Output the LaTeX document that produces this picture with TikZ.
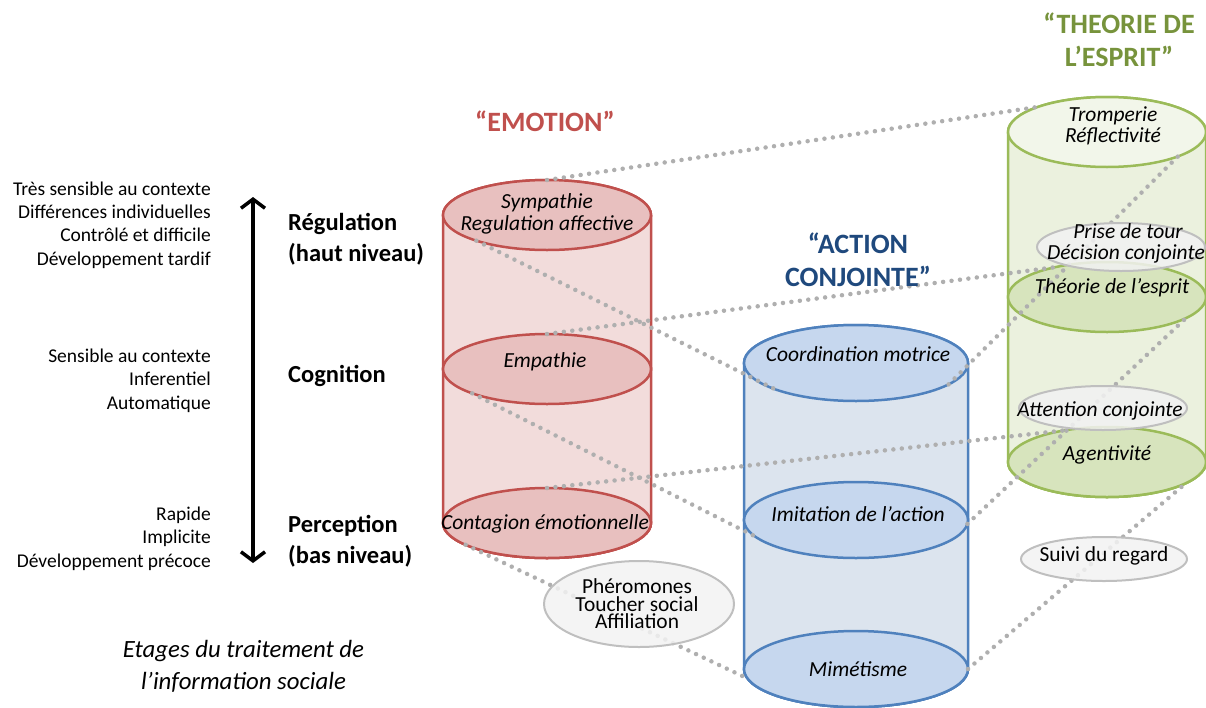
\documentclass[tikz,border=0pt]{standalone}
\usepackage{fontspec}
\setmainfont{Carlito}
\usetikzlibrary{shapes.geometric,arrows.meta}
\definecolor{redS}{HTML}{C0504D}
\definecolor{redB}{HTML}{F2DCDB}
\definecolor{redE}{HTML}{E8C0BF}
\definecolor{bluS}{HTML}{4F81BD}
\definecolor{bluB}{HTML}{DCE4EE}
\definecolor{bluE}{HTML}{C6D7EE}
\definecolor{bluT}{HTML}{1F497D}
\definecolor{grnS}{HTML}{9BBB59}
\definecolor{grnB}{HTML}{EBF1DE}
\definecolor{grnE}{HTML}{D7E4BD}
\definecolor{grnL}{HTML}{F2F6EA}
\definecolor{grnT}{HTML}{77933C}
\definecolor{gryF}{HTML}{F2F2F2}
\definecolor{gryS}{HTML}{BFBFBF}
\definecolor{dotC}{HTML}{AFAFAF}
\begin{document}
\begin{tikzpicture}[x=1pt,y=-1pt,
  ell/.style={ellipse, inner sep=0pt, outer sep=0pt, line width=2.5pt},
  redell/.style={ell, draw=redS, fill=redE, minimum width=208pt, minimum height=70pt},
  bluell/.style={ell, draw=bluS, fill=bluE, minimum width=224pt, minimum height=76pt},
  grnell/.style={ell, draw=grnS, fill=grnE, minimum width=198pt, minimum height=70pt},
  gryell/.style={ell, draw=gryS, fill=gryF, fill opacity=0.85, line width=2pt},
  lefttxt/.style={font=\fontsize{19.5}{23.4}\selectfont, align=right, inner sep=0pt, anchor=east},
  boldtxt/.style={font=\bfseries\fontsize{24.5}{31}\selectfont, align=left, inner sep=0pt, anchor=west},
  ctxt/.style={font=\itshape\fontsize{21.5}{22}\selectfont, align=center, inner sep=0pt},
  ptxt/.style={font=\fontsize{21.4}{17.5}\selectfont, align=center, inner sep=0pt},
  title/.style={font=\bfseries\fontsize{28}{33}\selectfont, align=center, inner sep=0pt},
  dots/.style={draw=dotC, line width=4.5pt, line cap=round, dash pattern=on 0pt off 8.5pt},
  body/.style={line width=2.5pt}]
\useasboundingbox (0,0) rectangle (1206,707);

% ---------- red cylinder ----------
\node[redell] (sym) at (547,215) {};
\node[redell] (emp) at (547,369) {};
\node[redell] (cont) at (547,523) {};
\fill[redB] (sym.west) -- (cont.west) arc[start angle=180,end angle=360,x radius=104pt,y radius=35pt] -- (sym.east) -- cycle;
\draw[body, draw=redS] (sym.west) -- (cont.west) arc[start angle=180,end angle=360,x radius=104pt,y radius=35pt] -- (sym.east);
\node[redell] at (547,523) {};
\node[redell] at (547,369) {};
\node[redell] at (547,215) {};

% ---------- blue cylinder ----------
\node[bluell] (coord) at (856,363) {};
\node[bluell] (imit) at (856,520) {};
\node[bluell] (mim) at (856,669) {};
\fill[bluB] (coord.west) -- (mim.west) arc[start angle=180,end angle=360,x radius=112pt,y radius=38pt] -- (coord.east) -- cycle;
\draw[body, draw=bluS] (coord.west) -- (mim.west) arc[start angle=180,end angle=360,x radius=112pt,y radius=38pt] -- (coord.east);
\node[bluell] at (856,669) {};
\node[bluell] at (856,520) {};
\node[bluell] at (856,363) {};

% ---------- green cylinder ----------
\node[grnell] (trom) at (1107,132) {};
\node[grnell] (theo) at (1107,297) {};
\node[grnell] (agent) at (1107,462) {};
\fill[grnB] (trom.west) -- (agent.west) arc[start angle=180,end angle=360,x radius=99pt,y radius=35pt] -- (trom.east) -- cycle;
\draw[body, draw=grnS] (trom.west) -- (agent.west) arc[start angle=180,end angle=360,x radius=99pt,y radius=35pt] -- (trom.east);
\node[grnell] at (1107,462) {};
\node[grnell] at (1107,297) {};
\node[grnell, fill=grnL] at (1107,132) {};

% ---------- dotted connectors ----------
\draw[dots] (sym.90) -- (trom.160);
\draw[dots] (sym.200) -- (coord.198);
\draw[dots] (emp.90) -- (theo.150);
\draw[dots] (emp.198) -- (imit.189);
\draw[dots] (cont.90) -- (agent.143);
\draw[dots] (cont.195) -- (mim.185);
\draw[dots] (coord.347) -- (trom.341);
\draw[dots] (imit.358) -- (theo.345);
\draw[dots] (mim.0) -- (agent.345);

% ---------- grey ellipses ----------
\node[gryell, minimum width=168pt, minimum height=48pt] (prise) at (1121,247) {};
\node[gryell, minimum width=168pt, minimum height=44pt] (attn) at (1103,408) {};
\node[gryell, minimum width=190pt, minimum height=86pt] (phero) at (639,604) {};
\node[gryell, minimum width=166pt, minimum height=44pt] (suivi) at (1104,559) {};

% ---------- cylinder texts ----------
\node[ctxt] (tsym) at (547,214) {Sympathie\\Regulation affective};
\node[ctxt] (temp) at (545,362) {Empathie};
\node[ctxt] (tcont) at (545,524) {Contagion émotionnelle};
\node[ctxt] (tcoord) at (858,354) {Coordination motrice};
\node[ctxt] (timit) at (858,514) {Imitation de l’action};
\node[ctxt] (tmim) at (858,669) {Mimétisme};
\node[ctxt, font=\itshape\fontsize{21.5}{21}\selectfont] (ttrom) at (1113,126) {Tromperie\\Réflectivité};
\node[ctxt, font=\itshape\fontsize{21.5}{21}\selectfont] (tprise) at (1126,243) {\hspace*{4pt}Prise de tour\\Décision conjointe};
\node[ctxt] (ttheo) at (1112,288) {Théorie de l’esprit};
\node[ctxt] (tattn) at (1100,411) {Attention conjointe};
\node[ctxt] (tagent) at (1107,455) {Agentivité};
\node[ptxt] (tphero) at (637,604) {Phéromones\\Toucher social\\Affiliation};
\node[ptxt] (tsuivi) at (1104,556) {Suivi du regard};

% ---------- titles ----------
\node[title, text=redS] (temo) at (545,121) {“EMOTION”};
\node[title, text=bluT] (tact) at (858,260) {“ACTION\\CONJOINTE”};
\node[title, text=grnT] (ttom) at (1119,40) {“THEORIE DE\\L’ESPRIT”};

% ---------- left side ----------
\node[lefttxt] (lt1) at (211,225) {Très sensible au contexte\\Différences individuelles\\Contrôlé et difficile\\Développement tardif};
\node[lefttxt] (lt2) at (211,380.5) {Sensible au contexte\\Inferentiel\\Automatique};
\node[lefttxt] (lt3) at (211,538.5) {Rapide\\Implicite\\Développement précoce};
\node[boldtxt] (reg) at (288,239.5) {Régulation\\(haut niveau)};
\node[boldtxt] (cog) at (288,376) {Cognition};
\node[boldtxt] (perc) at (288,541.5) {Perception\\(bas niveau)};
\coordinate (atop) at (253,197);
\coordinate (abot) at (253,563);
\draw[line width=3.5pt, {Straight Barb[length=9pt,width=24pt]}-{Straight Barb[length=9pt,width=24pt]}] (atop) -- (abot);
\node[font=\itshape\fontsize{24.8}{32}\selectfont, align=center, inner sep=0pt] (cap) at (243.5,666) {Etages du traitement de\\l’information sociale};
\end{tikzpicture}
\end{document}
